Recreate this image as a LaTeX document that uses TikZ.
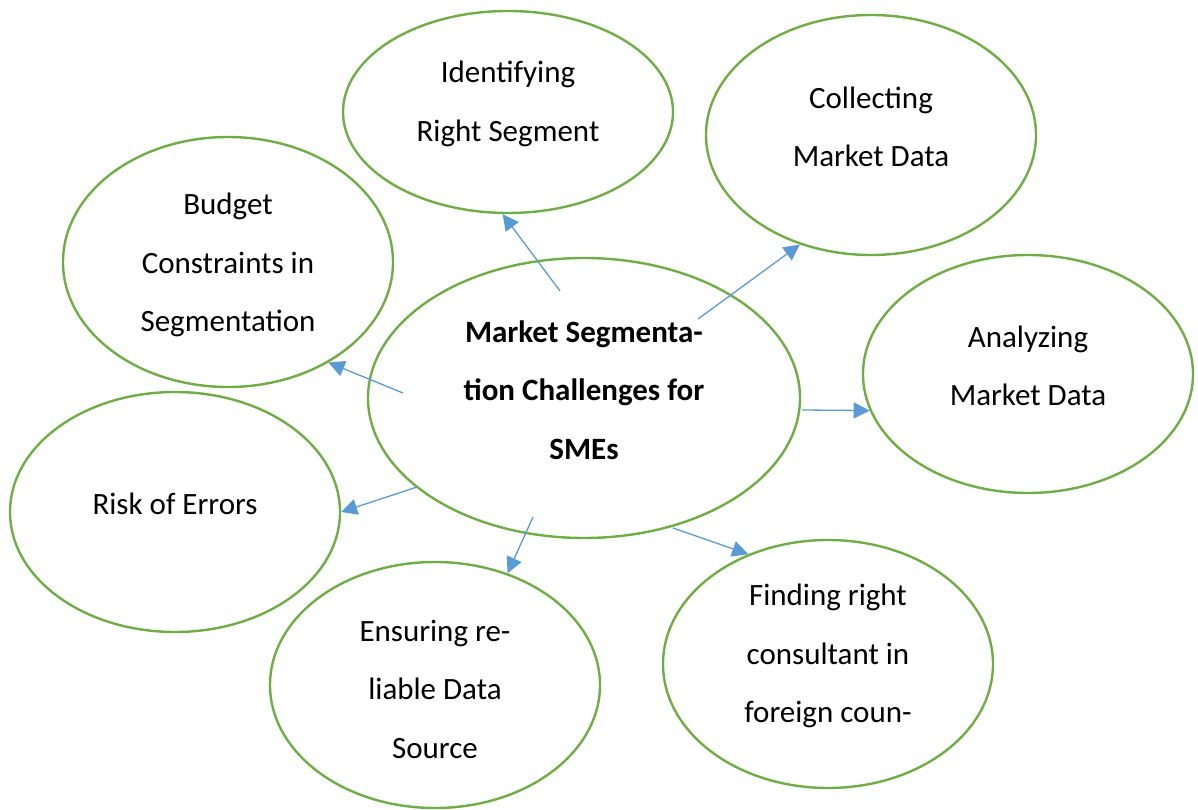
\documentclass[tikz,border=0pt]{standalone}
\usepackage{fontspec}
\setmainfont{Carlito}
\usetikzlibrary{shapes.geometric,arrows.meta}
\definecolor{leafgreen}{HTML}{70AD47}
\definecolor{skyblue}{HTML}{5B9BD5}
\begin{document}
\begin{tikzpicture}[x=1pt, y=-1pt, font=\fontsize{31}{58.5}\selectfont,
	bubble/.style={ellipse, draw=leafgreen, line width=2.4pt, inner sep=0pt, minimum width=330pt},
	words/.style={align=center, inner sep=0pt, yshift=8pt},
	link/.style={draw=skyblue, line width=1.3pt, -{Triangle[length=16pt,width=16pt]}}]
			\useasboundingbox (0,0) rectangle (1198,810);
			\node[bubble, minimum width=432pt, minimum height=280pt,
				label={[words, font=\fontsize{31}{58.5}\selectfont\bfseries]center:Market Segmenta-\\tion Challenges for\\SMEs}] (hub) at (584,398) {};
			\node[bubble, minimum height=202pt, label={[words]center:Identifying\\Right Segment}] (ident) at (508,112) {};
			\node[bubble, minimum height=240pt, label={[words]center:Collecting\\Market Data}] (collect) at (871,135) {};
			\node[bubble, minimum height=250pt, label={[words, yshift=-11pt]center:Budget\\Constraints in\\Segmentation}] (budget) at (228,262) {};
			\node[bubble, minimum height=238pt, label={[words]center:Analyzing\\Market Data}] (analyse) at (1028,374) {};
			\node[bubble, minimum height=240pt, label={[words]center:Risk of Errors}] (risk) at (175,512) {};
			\node[bubble, minimum height=246pt, label={[words, yshift=-12pt]center:Ensuring re-\\liable Data\\Source}] (ensure) at (435,685) {};
			\node[bubble, minimum height=248pt, label={[words]center:Finding right\\consultant in\\foreign coun-}] (consult) at (828,664) {};
			% arrows leave from inside the hub
			\coordinate (c1) at (560,291);
			\coordinate (c2) at (698,319);
			\coordinate (c3) at (403,393);
			\coordinate (c4) at (802,410);
			\coordinate (c5) at (417,487);
			\coordinate (c6) at (533,517);
			\coordinate (c7) at (673,528);
			\draw[link] (c1) -- (ident.-93);
			\draw[link] (c2) -- (collect.-123);
			\draw[link] (c3) -- (budget.-45);
			\draw[link] (c4) -- (analyse.-167);
			\draw[link] (c5) -- (risk.east);
			\draw[link] (c6) -- (ensure.57);
			\draw[link] (c7) -- (consult.126);
		\end{tikzpicture}
\end{document}
